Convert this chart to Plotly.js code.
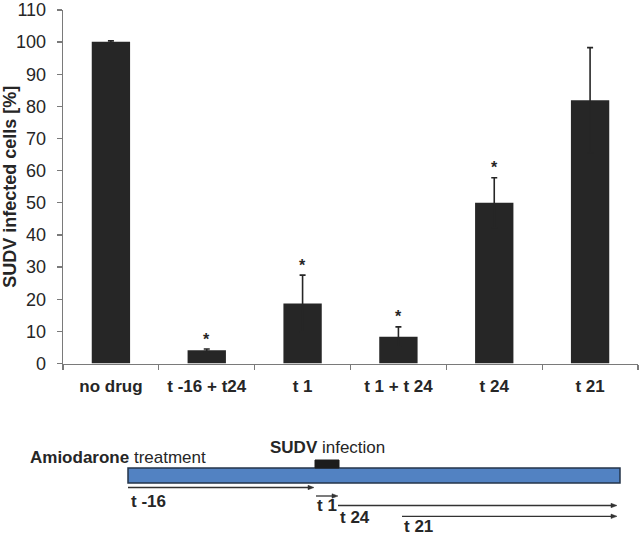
<!DOCTYPE html>
<html>
<head>
<meta charset="utf-8">
<script src="https://cdn.plot.ly/plotly-3.0.1.min.js"></script>
<style>html,body{margin:0;padding:0;background:#fff;}#chart{width:640px;height:535px;}</style>
</head>
<body>
<div id="chart"></div>
<script>
// ---- data ----
const categories = ["no drug", "t -16 + t24", "t 1", "t 1 + t 24", "t 24", "t 21"];
const values = [100.1, 4.1, 18.7, 8.3, 50.0, 81.9];
const errors = [0.3, 0.4, 8.8, 3.1, 7.8, 16.4];
const significant = [false, true, true, true, true, false];
const yTicks = [0, 10, 20, 30, 40, 50, 60, 70, 80, 90, 100, 110];

// timeline schematic labels
const timelineLabels = ["t -16", "t 1", "t 24", "t 21"];

// ---- layout geometry ----
const W = 640, H = 535;
const M = {l: 63, r: 2, t: 10, b: 0};
const PW = W - M.l - M.r, PH = H - M.t - M.b;
const px = x => (x - M.l) / PW;
const py = y => (H - M.b - y) / PH;
const mainBottom = 363.5;

const FONT = "Liberation Sans, Arial, sans-serif";
const INK = "#262626";
const AXIS = "#7a7a7a";

const trace = {
  type: "bar",
  x: categories,
  y: values,
  marker: {color: INK, line: {width: 0}},
  error_y: {type: "data", array: errors, visible: true, color: INK, thickness: 1.6, width: 3},
  hoverinfo: "skip"
};

const annotations = [];
categories.forEach((c, i) => {
  if (significant[i]) {
    annotations.push({
      x: c, y: values[i] + errors[i], xref: "x", yref: "y",
      text: "*", showarrow: false, yanchor: "middle", yshift: 10,
      font: {family: FONT, size: 16, color: INK, weight: "bold"}
    });
  }
});

// schematic text
const textDefs = [
  {text: "<b>Amiodarone</b> treatment", x: 28, y: 457},
  {text: "<b>SUDV</b> infection", x: 268, y: 447},
  {text: "<b>" + timelineLabels[0] + "</b>", x: 129, y: 501},
  {text: "<b>" + timelineLabels[1] + "</b>", x: 315, y: 505},
  {text: "<b>" + timelineLabels[2] + "</b>", x: 338, y: 517},
  {text: "<b>" + timelineLabels[3] + "</b>", x: 402, y: 526.5}
];
textDefs.forEach(d => annotations.push({
  xref: "paper", yref: "paper", x: px(d.x), y: py(d.y),
  xanchor: "left", yanchor: "middle", showarrow: false, text: d.text,
  font: {family: FONT, size: 17, color: INK}
}));

const shapes = [];
// blue treatment bar
shapes.push({type: "rect", xref: "paper", yref: "paper",
  x0: px(128), x1: px(620), y0: py(483), y1: py(468),
  fillcolor: "#5282c2", line: {color: "#24344a", width: 1.5}, layer: "above"});
// infection block
shapes.push({type: "rect", xref: "paper", yref: "paper",
  x0: px(315), x1: px(339), y0: py(468), y1: py(460),
  fillcolor: "#1c1c1c", line: {color: "#1c1c1c", width: 1}, layer: "above"});
// arrows
const arrows = [[128, 314, 487.5], [316, 338, 496], [338, 617, 505.5], [402, 617, 516.3]];
arrows.forEach(a => {
  shapes.push({type: "line", xref: "paper", yref: "paper",
    x0: px(a[0]), x1: px(a[1] - 3), y0: py(a[2]), y1: py(a[2]),
    line: {color: "#333", width: 1.3}});
  shapes.push({type: "path", xref: "paper", yref: "paper",
    path: `M ${px(a[1])} ${py(a[2])} L ${px(a[1] - 6)} ${py(a[2] - 2.2)} L ${px(a[1] - 6)} ${py(a[2] + 2.2)} Z`,
    fillcolor: "#333", line: {color: "#333", width: 0.5}});
});

const layout = {
  width: W, height: H,
  margin: M,
  paper_bgcolor: "#fff", plot_bgcolor: "#fff",
  showlegend: false,
  bargap: 0.6,
  font: {family: FONT, color: INK},
  xaxis: {
    type: "category",
    tickson: "boundaries",
    ticks: "outside", ticklen: 5, tickcolor: AXIS, tickwidth: 1.3,
    showline: true, linecolor: AXIS, linewidth: 1.3,
    showgrid: false, zeroline: false,
    ticklabelstandoff: 7,
    tickfont: {family: FONT, size: 17, color: INK, weight: "bold"},
    anchor: "y"
  },
  yaxis: {
    domain: [py(mainBottom), 1],
    range: [0, 110],
    tickvals: yTicks,
    ticks: "outside", ticklen: 5, tickcolor: AXIS, tickwidth: 1.3,
    showline: true, linecolor: AXIS, linewidth: 1.3,
    showgrid: false, zeroline: false,
    ticklabelstandoff: 7,
    ticklabeloverflow: "allow",
    tickfont: {family: FONT, size: 18, color: INK},
    title: {text: "SUDV infected cells [%]", standoff: 6,
      font: {family: FONT, size: 18, color: INK, weight: "bold"}}
  },
  annotations: annotations,
  shapes: shapes
};

Plotly.newPlot("chart", [trace], layout, {displayModeBar: false, staticPlot: true});
</script>
</body>
</html>
